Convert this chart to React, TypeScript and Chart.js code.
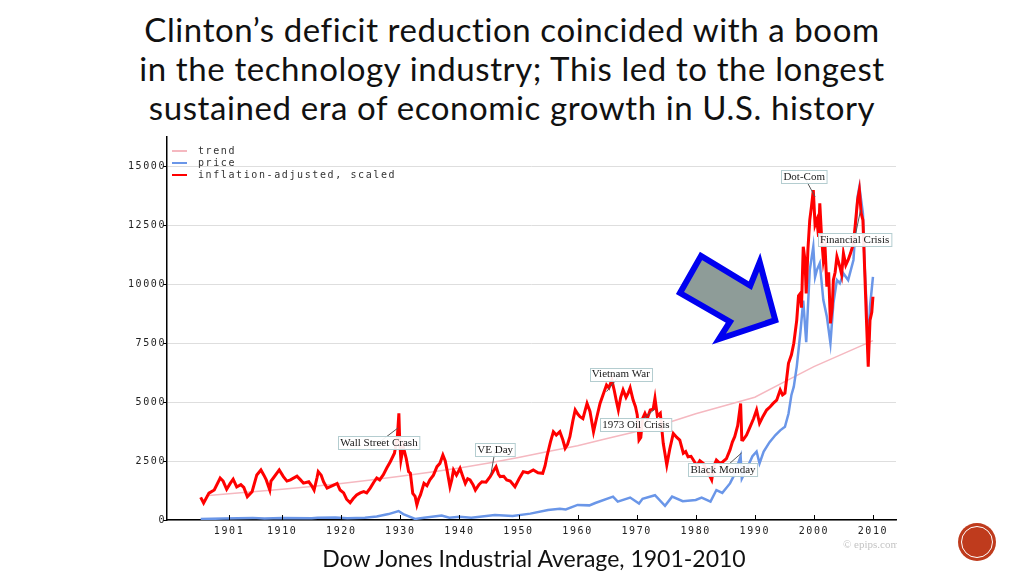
import React, { useEffect, useRef } from 'react';
import { Chart, registerables } from 'chart.js';

Chart.register(...registerables);

// ---------- data ----------
const redYears = [
  1896.2, 1896.7, 1897.6, 1898.5, 1899.5, 1900.0, 1900.6, 1901.2, 1901.7, 1902.3, 1903.0, 1903.5, 1904.1, 1904.9,
  1905.7, 1906.4, 1906.9, 1907.3, 1907.9, 1908.1, 1908.5, 1909.5, 1910.2, 1910.8, 1911.4, 1912.5, 1913.1, 1913.6,
  1914.5, 1915.0, 1915.4, 1915.9, 1916.1, 1916.6, 1917.0, 1917.6, 1918.7, 1919.3, 1919.8, 1920.4, 1920.9, 1921.5,
  1922.0, 1922.6, 1923.2, 1923.8, 1924.3, 1924.9, 1925.5, 1926.0, 1926.5, 1927.1, 1927.7, 1928.3, 1929.0, 1929.5,
  1929.75, 1929.9, 1930.1, 1930.5, 1931.0, 1931.4, 1931.7, 1932.1, 1932.5, 1932.8, 1933.1, 1933.4, 1934.0, 1934.5,
  1935.0, 1935.6, 1936.2, 1936.7, 1937.2, 1937.6, 1937.9, 1938.4, 1938.7, 1939.0, 1939.5, 1940.1, 1940.5, 1941.0,
  1941.4, 1941.8, 1942.3, 1942.7, 1943.3, 1943.8, 1944.5, 1945.2, 1945.8, 1946.2, 1946.6, 1946.9, 1947.5, 1948.0,
  1948.6, 1949.4, 1950.1, 1950.8, 1951.6, 1952.5, 1953.3, 1954.1, 1954.5, 1954.8, 1955.4, 1955.9, 1956.4, 1957.0,
  1957.5, 1957.9, 1958.3, 1958.7, 1959.2, 1959.6, 1960.0, 1960.4, 1960.9, 1961.6, 1962.1, 1962.7, 1963.2, 1963.8,
  1964.3, 1964.9, 1965.3, 1965.8, 1966.2, 1966.6, 1966.9, 1967.3, 1967.7, 1968.2, 1968.6, 1968.9, 1969.4, 1969.8,
  1970.1, 1970.4, 1970.7, 1971.0, 1971.4, 1971.8, 1972.3, 1972.8, 1973.1, 1973.5, 1974.0, 1974.5, 1974.8, 1975.1,
  1975.6, 1976.2, 1976.8, 1977.3, 1977.9, 1978.3, 1978.7, 1979.2, 1979.6, 1980.2, 1980.7, 1981.3, 1981.8, 1982.3,
  1982.7, 1983.1, 1983.5, 1984.1, 1984.6, 1985.2, 1985.8, 1986.2, 1986.6, 1987.1, 1987.6, 1987.8, 1988.0, 1988.6,
  1989.2, 1989.8, 1990.3, 1990.8, 1991.4, 1992.0, 1992.6, 1993.1, 1993.7, 1994.3, 1994.7, 1995.1, 1995.7, 1996.2,
  1996.6, 1997.1, 1997.4, 1997.7, 1997.9, 1998.2, 1998.5, 1998.7, 1999.0, 1999.3, 1999.6, 1999.9, 2000.2, 2000.5,
  2000.8, 2001.0, 2001.3, 2001.6, 2001.9, 2002.2, 2002.5, 2002.8, 2003.1, 2003.3, 2003.6, 2003.9, 2004.4, 2004.7,
  2005.0, 2005.4, 2005.8, 2006.2, 2006.7, 2007.0, 2007.4, 2007.7, 2008.0, 2008.3, 2008.6, 2008.9, 2009.2, 2009.5,
  2009.8, 2010.0,
];
const redValues = [
  960, 720, 1140, 1270, 1780, 1650, 1300, 1550, 1730, 1400, 1500, 1380, 990, 1200,
  1910, 2120, 1900, 1700, 1270, 1650, 1780, 2120, 1840, 1650, 1700, 1860, 1700, 1560,
  1620, 1450, 1270, 1800, 2050, 1900, 1620, 1350, 1480, 1550, 1270, 1150, 880, 730,
  900, 1060, 1150, 1200, 1150, 1350, 1600, 1780, 1700, 1910, 2200, 2470, 2830, 3530,
  4520, 3300, 2540, 3100, 2600, 2050, 1980, 1130, 1000, 640, 900, 1060, 1550, 1450,
  1700, 1900, 2260, 2400, 2750, 2500, 2120, 1410, 1700, 2120, 1900, 2190, 1900, 1550,
  1750, 1700, 1500, 1270, 1500, 1620, 1600, 1840, 2100, 2260, 1950, 1840, 1850, 1700,
  1650, 1410, 1750, 2050, 2000, 2120, 2000, 1980, 2300, 2680, 3300, 3740, 3600, 3740,
  3400, 3040, 3200, 3530, 4200, 4660, 4500, 4380, 4300, 4940, 4600, 3740, 4300, 4940,
  5300, 5720, 5600, 5930, 5500, 5000, 4660, 5200, 5510, 5200, 5400, 5600, 5080, 4800,
  4450, 3390, 3500, 4300, 4520, 4300, 4660, 4700, 5160, 4400, 4520, 3250, 2800, 2330,
  3000, 3670, 3500, 3390, 2830, 2900, 2680, 2700, 2540, 2300, 2510, 2400, 2120, 1900,
  1700, 2300, 2540, 2400, 2470, 2600, 2970, 3300, 3530, 4000, 4940, 3400, 3390, 3600,
  3950, 4300, 4660, 4100, 4400, 4660, 4800, 4940, 5080, 5510, 5300, 5370, 6640, 7000,
  7490, 8470, 9500, 9600, 9000, 11580, 11000, 9600, 11500, 12710, 13300, 13980, 12500, 12710,
  12000, 13420, 12000, 11020, 11500, 9890, 10500, 8330, 9000, 10170, 10500, 11160, 10730, 10400,
  11300, 10800, 11020, 11300, 11720, 12500, 13560, 13980, 13000, 12710, 10590, 8470, 6500, 8470,
  8800, 9460,
];

const blueYears = [
  1896.2, 1900, 1905, 1907, 1910, 1915, 1916, 1919, 1921, 1924, 1926, 1928, 1929.7, 1930.5, 1932.5, 1934,
  1937, 1938.3, 1940, 1942, 1946, 1949, 1952, 1955, 1957, 1958, 1960, 1962, 1963, 1966, 1966.8, 1968.9,
  1970.4, 1971, 1973.1, 1974.8, 1976, 1977.8, 1980, 1981, 1982.5, 1983.5, 1984.5, 1985, 1985.8, 1986.5,
  1987.6, 1987.8, 1988.5, 1989.6, 1990.3, 1990.8, 1991.5, 1992.5, 1993.5, 1994.3, 1995.1, 1995.7, 1996.2,
  1996.6, 1997.1, 1997.7, 1998.2, 1998.7, 1999.3, 1999.9, 2000.2, 2000.5, 2001.0, 2001.6, 2002.2, 2002.8,
  2003.3, 2003.9, 2004.4, 2005.0, 2005.8, 2006.7, 2007.4, 2007.7, 2008.3, 2008.6, 2008.9, 2009.2, 2009.5, 2010.0,
];
const blueValues = [
  40, 60, 90, 60, 90, 70, 100, 110, 70, 100, 150, 250, 380, 250, 45, 100,
  190, 100, 140, 100, 210, 170, 270, 420, 480, 450, 640, 620, 720, 990, 780, 950,
  700, 900, 1050, 600, 990, 800, 850, 950, 780, 1270, 1150, 1300, 1550, 1900,
  2700, 1750, 2100, 2700, 2900, 2400, 2900, 3300, 3600, 3800, 3950, 4500, 5300,
  5650, 6500, 7910, 9300, 7540, 10590, 11580, 10300, 10590, 10880, 9320, 8610, 7490,
  9180, 10170, 10030, 10450, 10170, 11020, 13700, 14120, 12990, 10730, 9180, 7000, 9040, 10300,
];

const trendYears = [1897.5, 1905, 1910, 1915, 1920, 1925, 1930, 1935, 1940, 1945, 1950, 1955, 1960, 1965, 1970, 1975, 1980, 1985, 1990, 1995, 2000, 2005, 2010];
const trendValues = [1040, 1200, 1300, 1420, 1550, 1690, 1850, 2020, 2200, 2420, 2650, 2900, 3150, 3450, 3750, 4100, 4500, 4850, 5200, 5850, 6500, 7050, 7600];

const xTickYears = [1901, 1910, 1920, 1930, 1940, 1950, 1960, 1970, 1980, 1990, 2000, 2010];
const yTickValues = [0, 2500, 5000, 7500, 10000, 12500, 15000];

const seriesLabels = ['trend', 'price', 'inflation-adjusted, scaled'];

const annotationLabels = ['Wall Street Crash', 'VE Day', 'Vietnam War', '1973 Oil Crisis', 'Black Monday', 'Dot-Com', 'Financial Crisis'];
const annotationYears = [1929.6, 1945.3, 1964.9, 1973.1, 1987.8, 2000.2, 2007.9];
const annotationValues = [3900, 1900, 5440, 4700, 2850, 13700, 13130];

// ---------- styles ----------
const COLORS = { trend: '#f5b8c0', price: '#6a96e8', red: '#ff0000' };
const MONO = "'DejaVu Sans Mono', monospace";
const SERIF = "'Liberation Serif', 'Times New Roman', serif";
const LABEL_OFFSETS: [number, number][] = [[-19, 14.5], [4.5, -25.7], [14.3, -17.6], [-19, 15.5], [-18.8, 16.6], [-10.9, -20], [-6, 29]];

const pts = (xs: number[], ys: number[]) => xs.map((x, i) => ({ x, y: ys[i] }));

const spacingPlugin = {
  id: 'spacing',
  beforeDraw(chart: any) {
    (chart.ctx as any).letterSpacing = '1.6px';
  },
};

const innerTicksPlugin = {
  id: 'innerTicks',
  afterDatasetsDraw(chart: any) {
    const { ctx, chartArea, scales } = chart;
    ctx.save();
    ctx.strokeStyle = '#000';
    ctx.lineWidth = 1;
    xTickYears.forEach((v) => {
      const x = Math.round(scales.x.getPixelForValue(v)) + 0.5;
      ctx.beginPath();
      ctx.moveTo(x, chartArea.bottom);
      ctx.lineTo(x, chartArea.bottom - 5);
      ctx.stroke();
    });
    ctx.restore();
  },
};

const legendPlugin = {
  id: 'customLegend',
  afterDraw(chart: any) {
    const { ctx, chartArea } = chart;
    const colors = [COLORS.trend, COLORS.price, COLORS.red];
    ctx.save();
    (ctx as any).letterSpacing = '1.6px';
    ctx.font = `10px ${MONO}`;
    ctx.textBaseline = 'middle';
    ctx.textAlign = 'left';
    seriesLabels.forEach((label, i) => {
      const y = chartArea.top + 14 + i * 12;
      ctx.strokeStyle = colors[i];
      ctx.lineWidth = 2;
      ctx.beginPath();
      ctx.moveTo(chartArea.left + 5, y);
      ctx.lineTo(chartArea.left + 20, y);
      ctx.stroke();
      ctx.fillStyle = '#333';
      ctx.fillText(label, chartArea.left + 31, y);
    });
    // watermark
    ctx.font = `11px ${SERIF}`;
    (ctx as any).letterSpacing = '0px';
    ctx.fillStyle = '#c4c4c4';
    ctx.fillText('\u00a9 epips.com', chartArea.right - 53, chart.height - 5);
    ctx.restore();
  },
};

const annotationPlugin = {
  id: 'eventLabels',
  afterDatasetsDraw(chart: any) {
    const { ctx, scales } = chart;
    ctx.save();
    (ctx as any).letterSpacing = '0px';
    ctx.font = `11px ${SERIF}`;
    ctx.textBaseline = 'middle';
    ctx.textAlign = 'center';
    annotationLabels.forEach((label, i) => {
      const ax = scales.x.getPixelForValue(annotationYears[i]);
      const ay = scales.y.getPixelForValue(annotationValues[i]);
      const [dx, dy] = LABEL_OFFSETS[i];
      const cx = ax + dx;
      const cy = ay + dy;
      ctx.strokeStyle = '#555';
      ctx.lineWidth = 1;
      ctx.beginPath();
      ctx.moveTo(ax, ay);
      ctx.lineTo(cx, cy);
      ctx.stroke();
      const w = ctx.measureText(label).width + 4;
      const h = 13;
      const bx = Math.round(cx - w / 2) + 0.5;
      const by = Math.round(cy - h / 2) + 0.5;
      ctx.fillStyle = 'rgba(255,255,255,0.92)';
      ctx.fillRect(bx, by, w, h);
      ctx.strokeStyle = '#b4cdd0';
      ctx.strokeRect(bx, by, w, h);
      ctx.fillStyle = '#1a1a1a';
      ctx.fillText(label, cx, cy + 0.5);
    });
    ctx.restore();
  },
};

function DowChart() {
  const ref = useRef<HTMLCanvasElement | null>(null);
  useEffect(() => {
    if (!ref.current) return;
    const tickFont = { family: MONO, size: 10 };
    const chart = new Chart(ref.current, {
      type: 'line',
      data: {
        datasets: [
          { label: seriesLabels[0], data: pts(trendYears, trendValues), borderColor: COLORS.trend, borderWidth: 1.5, order: 2 },
          { label: seriesLabels[1], data: pts(blueYears, blueValues), borderColor: COLORS.price, borderWidth: 2.5, order: 1 },
          { label: seriesLabels[2], data: pts(redYears, redValues), borderColor: COLORS.red, borderWidth: 3, order: 0 },
        ],
      },
      options: {
        animation: false,
        responsive: false,
        maintainAspectRatio: false,
        layout: { padding: { top: 7, right: 1, left: 0, bottom: 0 } },
        elements: { point: { radius: 0 }, line: { tension: 0 } },
        plugins: { legend: { display: false }, tooltip: { enabled: false } },
        scales: {
          x: {
            type: 'linear',
            min: 1890.5,
            max: 2013.9,
            afterBuildTicks: (s: any) => { s.ticks = xTickYears.map((v) => ({ value: v })); },
            afterFit: (s: any) => { s.height = 30; },
            grid: { display: false, drawTicks: false, tickLength: 0 },
            border: { display: true, color: '#000', width: 1.5 },
            ticks: { padding: 5, font: tickFont, color: '#222', autoSkip: false, maxRotation: 0, callback: (v: any) => String(v) },
          },
          y: {
            type: 'linear',
            min: 0,
            max: 16230,
            afterBuildTicks: (s: any) => { s.ticks = yTickValues.map((v) => ({ value: v })); },
            afterFit: (s: any) => { s.width = 47; },
            grid: { color: '#dedede', tickColor: '#000', tickLength: 4, lineWidth: 1 },
            border: { display: true, color: '#000', width: 1.5 },
            ticks: { padding: -3, font: tickFont, color: '#222', callback: (v: any) => String(v) },
          },
        },
      } as any,
      plugins: [spacingPlugin, innerTicksPlugin, annotationPlugin, legendPlugin],
    });
    return () => chart.destroy();
  }, []);
  return <canvas ref={ref} width={777} height={420} style={{ position: 'absolute', left: 120, top: 130, width: 777, height: 420 }} />;
}

export default function App() {
  return (
    <div style={{ position: 'fixed', left: 0, top: 0, width: 1024, height: 576, background: '#fff', overflow: 'hidden' }}>
      <div
        style={{
          position: 'absolute', left: 0, top: 10, width: 1024, textAlign: 'center',
          fontFamily: "Lato, 'Open Sans', sans-serif", fontSize: 33, letterSpacing: '0.6px', lineHeight: '39px', color: '#111',
        }}
      >
        Clinton’s deficit reduction coincided with a boom<br />
        in the technology industry; This led to the longest<br />
        sustained era of economic growth in U.S. history
      </div>
      <DowChart />
      <svg width={1024} height={576} style={{ position: 'absolute', left: 0, top: 0, pointerEvents: 'none' }}>
        <polygon
          points="701,256 680,293 730,321.7 719,339 775.3,320.2 759.7,262.2 750.3,285.7"
          fill="#8e9c98"
          stroke="#0000f0"
          strokeWidth={6}
          strokeLinejoin="miter"
        />
      </svg>
      <div
        style={{
          position: 'absolute', left: 534, top: 545, transform: 'translateX(-50%)', whiteSpace: 'nowrap',
          fontFamily: "Lato, 'Open Sans', sans-serif", fontSize: 23, lineHeight: '26px', color: '#111',
        }}
      >
        Dow Jones Industrial Average, 1901-2010
      </div>
      <div style={{ position: 'absolute', left: 958, top: 523, width: 38, height: 38, borderRadius: '50%', background: '#bf3b1d' }}>
        <div style={{ position: 'absolute', left: 3, top: 3, right: 3, bottom: 3, borderRadius: '50%', border: '1.5px solid #fff', boxSizing: 'border-box' }} />
      </div>
    </div>
  );
}
